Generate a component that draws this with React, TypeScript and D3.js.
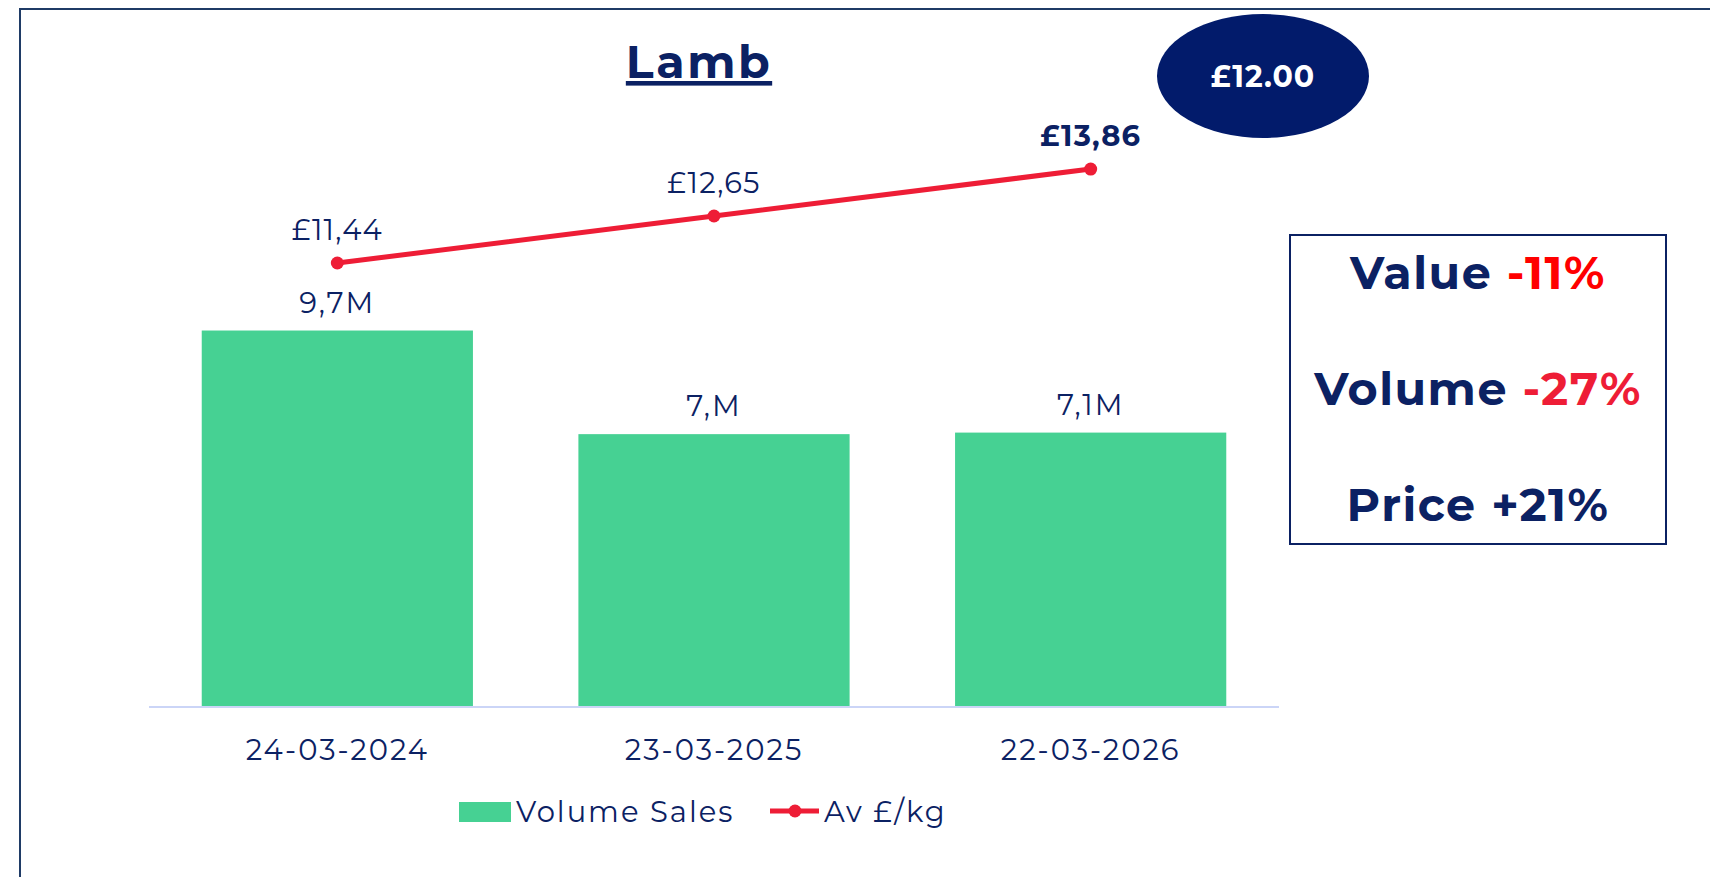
import React, { useEffect, useRef } from 'react';
import * as d3 from 'd3';

const categories = ['24-03-2024', '23-03-2025', '22-03-2026'];
const volumeSales = [9.7, 7.03, 7.07];
const volumeLabels = ['9,7M', '7,M', '7,1M'];
const avPrice = [11.44, 12.65, 13.86];
const priceLabels = ['£11,44', '£12,65', '£13,86'];
const summaryRows = [
  { label: 'Value ', change: '-11%', color: '#FF0000' },
  { label: 'Volume ', change: '-27%', color: '#EE1D36' },
  { label: 'Price ', change: '+21%', color: '#0B2163' },
];
const targetPrice = '£12.00';

const NAVY = '#0B2163';
const GREEN = '#46D193';
const RED = '#EE1D36';
const FONT = 'Montserrat, "Open Sans", sans-serif';

const App: React.FC = () => {
  const svgRef = useRef<SVGSVGElement | null>(null);

  useEffect(() => {
    const width = 1710;
    const height = 877;
    const svg = d3.select(svgRef.current).attr('width', width).attr('height', height);
    svg.selectAll('*').remove();

    svg.append('rect').attr('width', width).attr('height', height).attr('fill', '#fff');

    // outer frame
    svg
      .append('rect')
      .attr('x', 20)
      .attr('y', 9)
      .attr('width', 1720)
      .attr('height', 900)
      .attr('fill', 'none')
      .attr('stroke', '#1F3B66')
      .attr('stroke-width', 2);

    const x = d3
      .scaleBand<string>()
      .domain(categories)
      .range([149, 1279])
      .paddingInner(0.28)
      .paddingOuter(0.14);

    const y = d3.scaleLinear().domain([0, 16]).range([707, 86]);

    // title
    svg
      .append('text')
      .attr('x', 699)
      .attr('y', 78)
      .attr('text-anchor', 'middle')
      .attr('font-family', FONT)
      .attr('font-weight', 700)
      .attr('font-size', 46)
      .attr('letter-spacing', 2.5)
      .attr('text-decoration', 'underline')
      .attr('fill', NAVY)
      .text('Lamb');

    // bars
    svg
      .selectAll('.bar')
      .data(volumeSales)
      .enter()
      .append('rect')
      .attr('class', 'bar')
      .attr('x', (_, i) => x(categories[i])!)
      .attr('y', (d) => y(d))
      .attr('width', x.bandwidth())
      .attr('height', (d) => y(0) - y(d))
      .attr('fill', GREEN);

    // baseline
    svg
      .append('line')
      .attr('x1', 149)
      .attr('x2', 1279)
      .attr('y1', y(0))
      .attr('y2', y(0))
      .attr('stroke', '#CBD5F7')
      .attr('stroke-width', 2);

    const cx = (i: number) => x(categories[i])! + x.bandwidth() / 2;

    // bar labels
    svg
      .selectAll('.bar-label')
      .data(volumeSales)
      .enter()
      .append('text')
      .attr('x', (_, i) => cx(i))
      .attr('y', (d) => y(d) - 18)
      .attr('text-anchor', 'middle')
      .attr('font-family', FONT)
      .attr('font-size', 29)
      .attr('letter-spacing', 2)
      .attr('fill', NAVY)
      .text((_, i) => volumeLabels[i]);

    // x axis labels
    svg
      .selectAll('.x-label')
      .data(categories)
      .enter()
      .append('text')
      .attr('x', (d) => x(d)! + x.bandwidth() / 2)
      .attr('y', 760)
      .attr('text-anchor', 'middle')
      .attr('font-family', FONT)
      .attr('font-size', 29)
      .attr('letter-spacing', 2)
      .attr('fill', NAVY)
      .text((d) => d);

    // price line
    const line = d3
      .line<number>()
      .x((_, i) => cx(i))
      .y((d) => y(d));

    svg
      .append('path')
      .datum(avPrice)
      .attr('d', line)
      .attr('fill', 'none')
      .attr('stroke', RED)
      .attr('stroke-width', 5);

    svg
      .selectAll('.dot')
      .data(avPrice)
      .enter()
      .append('circle')
      .attr('cx', (_, i) => cx(i))
      .attr('cy', (d) => y(d))
      .attr('r', 6.5)
      .attr('fill', RED);

    svg
      .selectAll('.price-label')
      .data(avPrice)
      .enter()
      .append('text')
      .attr('x', (_, i) => cx(i))
      .attr('y', (d) => y(d) - 23)
      .attr('text-anchor', 'middle')
      .attr('font-family', FONT)
      .attr('font-size', 29)
      .attr('font-weight', (_, i) => (i === avPrice.length - 1 ? 700 : 400))
      .attr('letter-spacing', 1.2)
      .attr('fill', NAVY)
      .text((_, i) => priceLabels[i]);

    // target price ellipse
    svg
      .append('ellipse')
      .attr('cx', 1263)
      .attr('cy', 76)
      .attr('rx', 106)
      .attr('ry', 62)
      .attr('fill', '#021B6B');
    svg
      .append('text')
      .attr('x', 1263)
      .attr('y', 87)
      .attr('text-anchor', 'middle')
      .attr('font-family', FONT)
      .attr('font-size', 30)
      .attr('font-weight', 700)
      .attr('letter-spacing', 1)
      .attr('fill', '#fff')
      .text(targetPrice);

    // summary box
    svg
      .append('rect')
      .attr('x', 1290)
      .attr('y', 235)
      .attr('width', 376)
      .attr('height', 309)
      .attr('fill', '#fff')
      .attr('stroke', NAVY)
      .attr('stroke-width', 2);

    const rowY = d3.scalePoint<number>().domain([0, 1, 2]).range([289, 521]);
    const rows = svg
      .selectAll('.summary')
      .data(summaryRows)
      .enter()
      .append('text')
      .attr('x', 1478)
      .attr('y', (_, i) => rowY(i)!)
      .attr('text-anchor', 'middle')
      .attr('font-family', FONT)
      .attr('font-size', 46)
      .attr('font-weight', 700)
      .attr('letter-spacing', 1.5)
      .attr('fill', NAVY);
    rows.append('tspan').text((d) => d.label);
    rows
      .append('tspan')
      .attr('fill', (d) => d.color)
      .text((d) => d.change);

    // legend
    const legend = svg.append('g').attr('font-family', FONT).attr('font-size', 29).attr('fill', NAVY);
    legend.append('rect').attr('x', 459).attr('y', 802).attr('width', 52).attr('height', 20).attr('fill', GREEN);
    legend.append('text').attr('x', 516).attr('y', 822).attr('letter-spacing', 2).text('Volume Sales');
    legend
      .append('line')
      .attr('x1', 770)
      .attr('x2', 819)
      .attr('y1', 811)
      .attr('y2', 811)
      .attr('stroke', RED)
      .attr('stroke-width', 5);
    legend.append('circle').attr('cx', 795).attr('cy', 811).attr('r', 6.5).attr('fill', RED);
    legend.append('text').attr('x', 824).attr('y', 822).attr('letter-spacing', 2).text('Av £/kg');
  }, []);

  return <svg ref={svgRef} style={{ position: 'absolute', left: 0, top: 0, display: 'block' }} />;
};

export default App;
